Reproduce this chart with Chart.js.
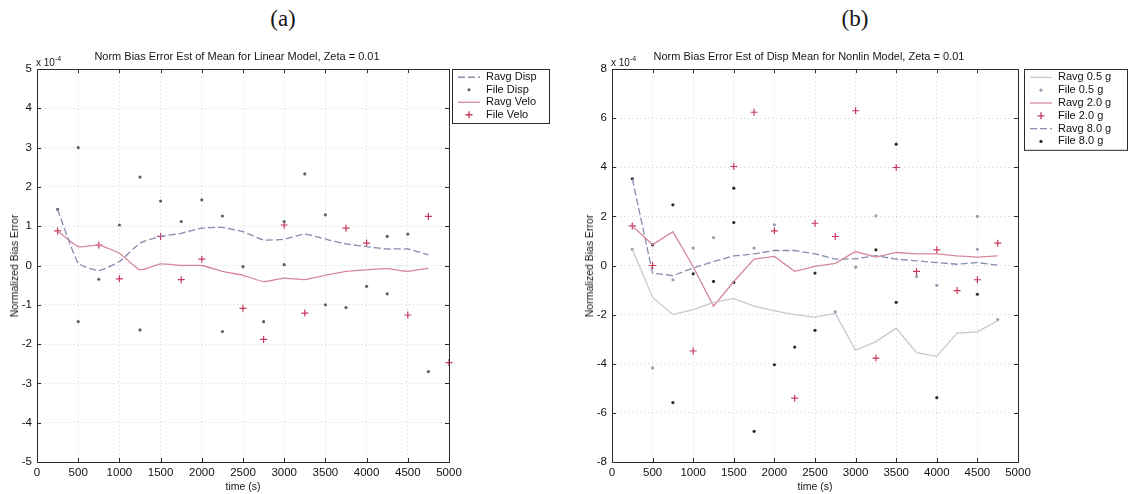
<!DOCTYPE html>
<html>
<head>
<meta charset="utf-8">
<script src="https://cdn.jsdelivr.net/npm/chart.js@4.4.0/dist/chart.umd.min.js"></script>
<style>
  body { margin: 0; background: #fff; width: 1132px; height: 494px; overflow: hidden; position: relative;
         font-family: "Liberation Sans", Arial, sans-serif; color: #161616; }
  .panel { position: absolute; top: 0; height: 494px; }
  .panel canvas { position: absolute; left: 0; top: 0; }
  .tag { position: absolute; top: 6px; font-family: "Liberation Serif", "DejaVu Serif", serif; font-size: 23px;
         transform: translateX(-50%); }
  .ttl { position: absolute; top: 50px; font-size: 11px; white-space: nowrap; transform: translateX(-50%); }
  .exp { position: absolute; top: 55px; font-size: 10px; white-space: nowrap; }
  .exp sup { font-size: 7px; vertical-align: 5px; }
  .ylab { position: absolute; top: 266px; font-size: 10.5px; white-space: nowrap; transform: translate(-50%, -50%) rotate(-90deg); }
  .xlab { position: absolute; top: 480px; font-size: 10.5px; white-space: nowrap; transform: translateX(-50%); }
</style>
</head>
<body>

<div class="tag" style="left:283px">(a)</div>
<div class="tag" style="left:855px">(b)</div>

<div class="panel" style="left:0;width:566px"><canvas id="chartA" width="566" height="494"></canvas></div>
<div class="panel" style="left:570px;width:562px"><canvas id="chartB" width="562" height="494"></canvas></div>

<div class="ttl" style="left:237px">Norm Bias Error Est of Mean for Linear Model, Zeta = 0.01</div>
<div class="ttl" style="left:809px">Norm Bias Error Est of Disp Mean for Nonlin Model, Zeta = 0.01</div>
<div class="exp" style="left:36px">x 10<sup>-4</sup></div>
<div class="exp" style="left:611px">x 10<sup>-4</sup></div>
<div class="ylab" style="left:14px">Normalized Bias Error</div>
<div class="ylab" style="left:589px">Normalized Bias Error</div>
<div class="xlab" style="left:243px">time (s)</div>
<div class="xlab" style="left:815px">time (s)</div>

<script>
// sample times of the running averages (s)
const times = [250, 500, 750, 1000, 1250, 1500, 1750, 2000, 2250, 2500, 2750, 3000, 3250, 3500, 3750, 4000, 4250, 4500, 4750];
const xTicks = [0, 500, 1000, 1500, 2000, 2500, 3000, 3500, 4000, 4500, 5000];
const yTicksA = [-5, -4, -3, -2, -1, 0, 1, 2, 3, 4, 5];
const yTicksB = [-8, -6, -4, -2, 0, 2, 4, 6, 8];

// (a) linear model, values in units of 1e-4
const ravgDisp = [1.43, 0.06, -0.13, 0.1, 0.57, 0.74, 0.82, 0.95, 0.97, 0.86, 0.65, 0.67, 0.8, 0.67, 0.55, 0.48, 0.42, 0.42, 0.27];
const ravgVelo = [0.88, 0.48, 0.52, 0.31, -0.11, 0.04, 0.0, 0.0, -0.15, -0.25, -0.41, -0.32, -0.36, -0.25, -0.15, -0.11, -0.08, -0.15, -0.07];
const fileDispT = [250, 500, 500, 750, 1000, 1250, 1250, 1500, 1750, 2000, 2250, 2250, 2500, 2750, 3000, 3000, 3250, 3500, 3500, 3750, 4000, 4250, 4250, 4500, 4750];
const fileDispV = [1.43, 3.0, -1.43, -0.35, 1.03, 2.25, -1.64, 1.64, 1.12, 1.67, 1.26, -1.68, -0.03, -1.43, 1.12, 0.02, 2.33, 1.29, -1.0, -1.07, -0.53, 0.74, -0.72, 0.8, -2.7];
const fileVeloT = [250, 750, 1000, 1500, 1750, 2000, 2500, 2750, 3000, 3250, 3750, 4000, 4500, 4750, 5000];
const fileVeloV = [0.88, 0.52, -0.34, 0.74, -0.36, 0.16, -1.09, -1.88, 1.03, -1.21, 0.95, 0.57, -1.26, 1.25, -2.47];

// (b) nonlinear model, three input levels
const ravg05 = [0.66, -1.3, -2.0, -1.8, -1.5, -1.35, -1.65, -1.85, -2.0, -2.1, -1.95, -3.45, -3.1, -2.55, -3.55, -3.7, -2.75, -2.7, -2.25];
const ravg20 = [1.61, 0.85, 1.38, -0.05, -1.66, -0.65, 0.26, 0.37, -0.24, -0.04, 0.09, 0.57, 0.34, 0.53, 0.47, 0.47, 0.39, 0.34, 0.39];
const ravg80 = [3.53, -0.31, -0.41, -0.1, 0.16, 0.39, 0.47, 0.61, 0.61, 0.47, 0.26, 0.27, 0.4, 0.26, 0.19, 0.12, 0.05, 0.12, 0.01];
const file05T = [250, 500, 750, 1000, 1250, 1750, 2000, 2750, 3000, 3250, 3750, 4000, 4500, 4500, 4750];
const file05V = [0.66, -4.17, -0.58, 0.71, 1.14, 0.71, 1.66, -1.89, -0.07, 2.02, -0.45, -0.81, 2.0, 0.66, -2.2];
const file20T = [250, 500, 1000, 1500, 1750, 2000, 2250, 2500, 2750, 3000, 3250, 3500, 3750, 4000, 4250, 4500, 4750];
const file20V = [1.61, 0.0, -3.48, 4.03, 6.24, 1.41, -5.4, 1.72, 1.18, 6.3, -3.77, 3.99, -0.24, 0.64, -1.02, -0.58, 0.91];
const file80T = [250, 500, 750, 750, 1000, 1250, 1500, 1500, 1500, 1750, 2000, 2250, 2500, 2500, 3250, 3500, 3500, 4000, 4500];
const file80V = [3.53, 0.84, 2.47, -5.58, -0.34, -0.65, 3.15, 1.75, -0.69, -6.75, -4.04, -3.32, -2.64, -0.31, 0.64, 4.94, -1.5, -5.38, -1.17];

const PINK = '#d5879c';
const RED = '#c8385c';
const SLATE = '#868cb0';
const FONT = '"Liberation Sans", Arial, sans-serif';

function pts(xs, ys) {
  return xs.map((x, i) => ({ x: x, y: ys[i] }));
}

function lineSet(label, values, color, dash, tension) {
  return { label: label, data: pts(times, values), showLine: true, borderColor: color, backgroundColor: color,
           borderWidth: 1.3, borderDash: dash || [], pointRadius: 0, pointHoverRadius: 0, tension: tension || 0, clip: 4 };
}

function dotSet(label, xs, ys, color) {
  return { label: label, data: pts(xs, ys), showLine: false, pointStyle: 'circle', pointRadius: 1.6,
           pointBorderWidth: 0, borderColor: color, backgroundColor: color, clip: 6 };
}

function crossSet(label, xs, ys, color) {
  return { label: label, data: pts(xs, ys), showLine: false, pointStyle: 'cross', pointRadius: 3.5,
           pointBorderWidth: 1.2, borderColor: color, backgroundColor: color, clip: 6 };
}

// box round the axes with inward tick marks, matlab style
const framePlugin = {
  id: 'frame',
  afterDraw(chart) {
    const { ctx, chartArea: a, scales } = chart;
    ctx.save();
    ctx.strokeStyle = '#2a2a2a';
    ctx.lineWidth = 1;
    ctx.strokeRect(Math.round(a.left) + 0.5, Math.round(a.top) + 0.5, Math.round(a.right - a.left), Math.round(a.bottom - a.top));
    ctx.beginPath();
    scales.x.ticks.forEach(t => {
      const px = Math.round(scales.x.getPixelForValue(t.value)) + 0.5;
      ctx.moveTo(px, a.bottom); ctx.lineTo(px, a.bottom - 4);
      ctx.moveTo(px, a.top); ctx.lineTo(px, a.top + 4);
    });
    scales.y.ticks.forEach(t => {
      const py = Math.round(scales.y.getPixelForValue(t.value)) + 0.5;
      ctx.moveTo(a.left, py); ctx.lineTo(a.left + 4, py);
      ctx.moveTo(a.right, py); ctx.lineTo(a.right - 4, py);
    });
    ctx.stroke();
    ctx.restore();
  }
};

// legend in a framed box to the right of the axes
const legendPlugin = {
  id: 'boxLegend',
  afterDraw(chart, args, opts) {
    const { ctx, chartArea: a } = chart;
    const sets = chart.data.datasets;
    const x0 = Math.round(a.right) + opts.gap;
    const top = Math.round(a.top);
    const h = sets.length * opts.rowH + 4;
    ctx.save();
    ctx.fillStyle = '#fff';
    ctx.fillRect(x0, top, opts.width, h);
    ctx.strokeStyle = '#2a2a2a';
    ctx.lineWidth = 1;
    ctx.strokeRect(x0 + 0.5, top + 0.5, opts.width, h);
    ctx.font = '11px ' + FONT;
    ctx.textBaseline = 'middle';
    sets.forEach((ds, i) => {
      const y = top + 2 + opts.rowH * (i + 0.5);
      ctx.strokeStyle = ds.borderColor;
      ctx.fillStyle = ds.backgroundColor;
      if (ds.showLine) {
        ctx.lineWidth = ds.borderWidth;
        ctx.setLineDash(ds.borderDash);
        ctx.beginPath();
        ctx.moveTo(x0 + 6, y);
        ctx.lineTo(x0 + 28, y);
        ctx.stroke();
        ctx.setLineDash([]);
      } else {
        Chart.helpers.drawPoint(ctx, { pointStyle: ds.pointStyle, radius: ds.pointRadius, borderWidth: ds.pointBorderWidth, rotation: 0 }, x0 + 17, y);
      }
      ctx.fillStyle = '#111';
      ctx.fillText(ds.label, x0 + 34, y);
    });
    ctx.restore();
  }
};

function makeChart(id, datasets, yTicks, yMax, geo) {
  return new Chart(document.getElementById(id), {
    type: 'scatter',
    data: { datasets: datasets },
    options: {
      responsive: false,
      animation: false,
      layout: { padding: { left: 0, right: geo.right, top: 69, bottom: 12 } },
      plugins: {
        legend: { display: false },
        tooltip: { enabled: false },
        boxLegend: { gap: geo.gap, width: geo.legendW, rowH: geo.rowH }
      },
      scales: {
        x: {
          type: 'linear', min: 0, max: 5000,
          afterBuildTicks: s => { s.ticks = xTicks.map(v => ({ value: v })); },
          afterFit: s => { s.height = 20; },
          grid: { color: '#d2d2d8', lineWidth: 1, drawTicks: false },
          border: { display: false, dash: [1, 3] },
          ticks: { padding: 4, color: '#111', autoSkip: false, maxRotation: 0, callback: v => String(v), font: { size: 11.5, family: FONT } }
        },
        y: {
          type: 'linear', min: -yMax, max: yMax,
          afterBuildTicks: s => { s.ticks = yTicks.map(v => ({ value: v })); },
          afterFit: s => { s.width = geo.yw; },
          grid: { color: '#d2d2d8', lineWidth: 1, drawTicks: false },
          border: { display: false, dash: [1, 3] },
          ticks: { padding: 5, color: '#111', callback: v => String(v), font: { size: 11.5, family: FONT } }
        }
      }
    },
    plugins: [framePlugin, legendPlugin]
  });
}

makeChart('chartA', [
  lineSet('Ravg Disp', ravgDisp, SLATE, [7, 3], 0.15),
  dotSet('File Disp', fileDispT, fileDispV, '#5c5f70'),
  lineSet('Ravg Velo', ravgVelo, PINK, [], 0.15),
  crossSet('File Velo', fileVeloT, fileVeloV, RED)
], yTicksA, 5, { yw: 37, right: 117, gap: 3, legendW: 97, rowH: 12.5 });

makeChart('chartB', [
  lineSet('Ravg 0.5 g', ravg05, '#c6c7d2'),
  dotSet('File 0.5 g', file05T, file05V, '#9a9db2'),
  lineSet('Ravg 2.0 g', ravg20, PINK),
  crossSet('File 2.0 g', file20T, file20V, RED),
  lineSet('Ravg 8.0 g', ravg80, SLATE, [7, 3]),
  dotSet('File 8.0 g', file80T, file80V, '#2a2a2a')
], yTicksB, 8, { yw: 42, right: 114, gap: 6, legendW: 103, rowH: 12.8 });
</script>
</body>
</html>
